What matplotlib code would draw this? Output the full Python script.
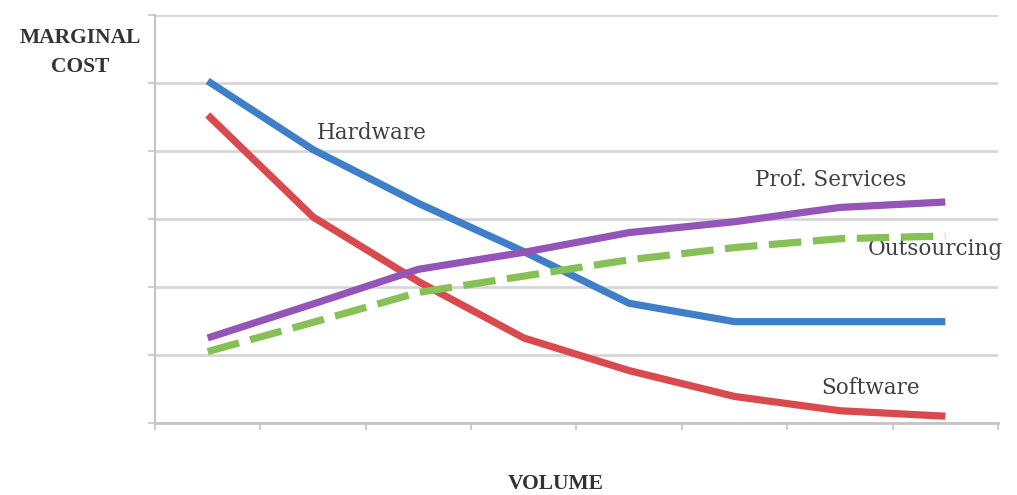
import matplotlib
matplotlib.use("Agg")
import matplotlib.pyplot as plt
import numpy as np

# volume steps (category slots along x)
volume_steps = [1, 2, 3, 4, 5, 6, 7, 8]

# marginal cost per product line (grid units 0..6)
hardware = [5.03, 4.02, 3.23, 2.52, 1.76, 1.49, 1.49, 1.49]
software = [4.53, 3.03, 2.08, 1.25, 0.77, 0.39, 0.18, 0.10]
prof_services = [1.25, 1.75, 2.26, 2.51, 2.80, 2.96, 3.17, 3.25]
outsourcing = [1.05, 1.48, 1.92, 2.16, 2.40, 2.58, 2.71, 2.75]

series_labels = ["Hardware", "Software", "Prof. Services", "Outsourcing"]

fig = plt.figure(figsize=(10.17, 4.95), dpi=100)
ax = fig.add_axes([0.1524, 0.1455, 0.8289, 0.8242])

x = np.array(volume_steps) - 0.5
lw = 5.2

ax.plot(x, hardware, color="#3f7fc8", lw=lw, solid_capstyle="butt", zorder=3)
ax.plot(x, software, color="#d94a4e", lw=lw, solid_capstyle="butt", zorder=3)
ax.plot(x, prof_services, color="#9455b8", lw=lw, solid_capstyle="butt", zorder=4)
ax.plot(x, outsourcing, color="#86c056", lw=lw, dashes=(4.5, 1.6),
        dash_capstyle="butt", zorder=4)

ax.set_xlim(0, 8)
ax.set_ylim(0, 6)
ax.set_xticks(np.arange(0, 9))
ax.set_yticks(np.arange(0, 7))
ax.set_xticklabels([])
ax.set_yticklabels([])
ax.yaxis.grid(True, color="#d6d6d6", lw=2)
ax.set_axisbelow(True)
ax.tick_params(axis="both", length=5, width=1.2, color="#c4c4c4")

for side in ["top", "right"]:
    ax.spines[side].set_visible(False)
ax.spines["left"].set_color("#c4c4c4")
ax.spines["bottom"].set_color("#c4c4c4")
ax.spines["left"].set_linewidth(1.5)
ax.spines["bottom"].set_linewidth(2)

# series labels placed near their lines, in data units
label_font = dict(family="DejaVu Serif", fontsize=15.5, color="#404040",
                  ha="center", va="center", clip_on=False)
ax.text(2.06, 4.26, series_labels[0], **label_font)
ax.text(6.79, 0.52, series_labels[1], **label_font)
ax.text(6.41, 3.57, series_labels[2], **label_font)
ax.text(7.41, 2.56, series_labels[3], **label_font)

title_font = dict(family="Liberation Serif", fontsize=15.5, fontweight="bold",
                  color="#333333", ha="center", va="center")
fig.text(80 / 1017, 1 - 38 / 495, "MARGINAL", **title_font)
fig.text(80 / 1017, 1 - 67 / 495, "COST", **title_font)
fig.text(556 / 1017, 1 - 484 / 495, "VOLUME", **title_font)

fig.savefig("out.png", dpi=100)
